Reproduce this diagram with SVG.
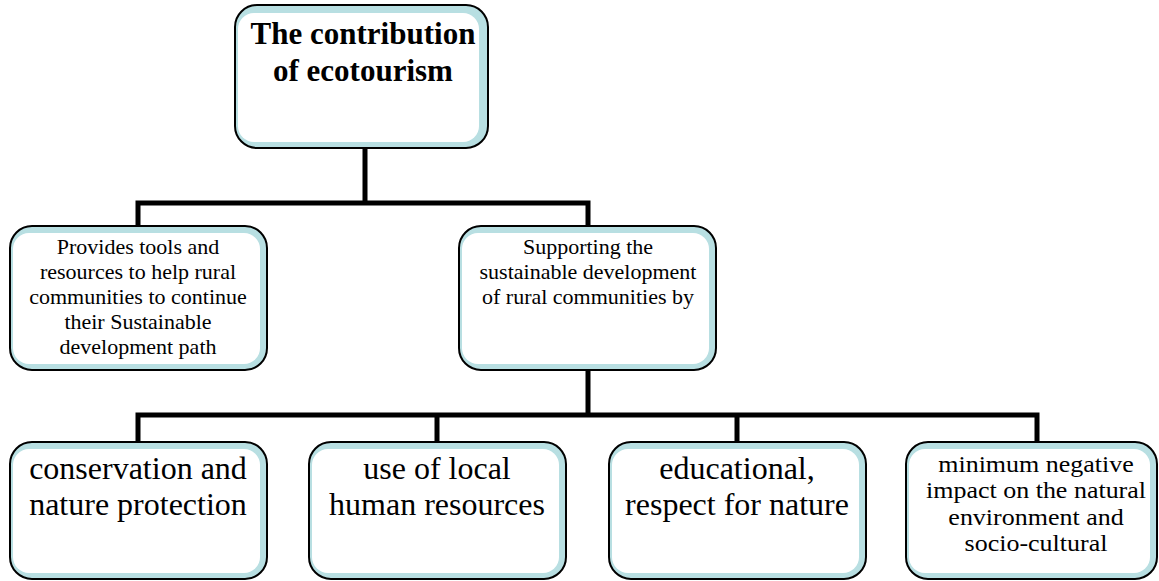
<svg xmlns="http://www.w3.org/2000/svg" width="1159" height="581" viewBox="0 0 1159 581" font-family="'Liberation Serif','Times New Roman',serif">
<style>
.bg{fill:#B8DFE2;stroke:none}
.in{fill:#FFFFFF;stroke:none}
.bd{fill:none;stroke:#000;stroke-width:2}
.ln{fill:none;stroke:#000;stroke-width:5;stroke-linecap:square}
text{font-family:"Liberation Serif","Times New Roman",serif;fill:#000;text-anchor:middle}
.t1{font-size:31px;font-weight:bold}
.t2{font-size:22px}
.t3{font-size:32px}
.t4{font-size:23px}
</style>
<rect width="1159" height="581" fill="#FFFFFF"/>
<g id="connectors">
<path class="ln" d="M365,149 V203 M138,203 H588 M138,203 V225 M588,203 V225"/>
<path class="ln" d="M588,371 V415 M138,415 H1037 M138,415 V441 M437,415 V441 M737,415 V441 M1037,415 V441"/>
</g>
<g id="top">
<rect class="bg" x="235" y="5" width="253" height="143" rx="22"/>
<rect class="in" x="238" y="13" width="241" height="129" rx="16"/>
<rect class="bd" x="235" y="5" width="253" height="143" rx="22"/>
<text class="t1" x="363" y="44">The contribution</text>
<text class="t1" x="363" y="81">of ecotourism</text>
</g>
<g id="tools">
<rect class="bg" x="10" y="226" width="257" height="144" rx="22"/>
<rect class="in" x="13" y="233" width="247" height="131" rx="16"/>
<rect class="bd" x="10" y="226" width="257" height="144" rx="22"/>
<text class="t2" x="138" y="254">Provides tools and</text>
<text class="t2" x="138" y="279">resources to help rural</text>
<text class="t2" x="138" y="304">communities to continue</text>
<text class="t2" x="138" y="329">their Sustainable</text>
<text class="t2" x="138" y="354">development path</text>
</g>
<g id="supporting">
<rect class="bg" x="459" y="226" width="257" height="144" rx="22"/>
<rect class="in" x="462" y="233" width="247" height="131" rx="16"/>
<rect class="bd" x="459" y="226" width="257" height="144" rx="22"/>
<text class="t2" x="588" y="254">Supporting the</text>
<text class="t2" x="588" y="279">sustainable development</text>
<text class="t2" x="588" y="304">of rural communities by</text>
</g>
<g id="conservation">
<rect class="bg" x="10" y="442" width="257" height="137" rx="22"/>
<rect class="in" x="13" y="449" width="247" height="124" rx="16"/>
<rect class="bd" x="10" y="442" width="257" height="137" rx="22"/>
<text class="t3" x="138" y="479">conservation and</text>
<text class="t3" x="138" y="515">nature protection</text>
</g>
<g id="local">
<rect class="bg" x="309" y="442" width="257" height="137" rx="22"/>
<rect class="in" x="312" y="449" width="247" height="124" rx="16"/>
<rect class="bd" x="309" y="442" width="257" height="137" rx="22"/>
<text class="t3" x="437" y="479">use of local</text>
<text class="t3" x="437" y="515">human resources</text>
</g>
<g id="educational">
<rect class="bg" x="609" y="442" width="257" height="137" rx="22"/>
<rect class="in" x="612" y="449" width="247" height="124" rx="16"/>
<rect class="bd" x="609" y="442" width="257" height="137" rx="22"/>
<text class="t3" x="737" y="479">educational,</text>
<text class="t3" x="737" y="515">respect for nature</text>
</g>
<g id="minimum">
<rect class="bg" x="906" y="442" width="251" height="137" rx="22"/>
<rect class="in" x="909" y="449" width="241" height="124" rx="16"/>
<rect class="bd" x="906" y="442" width="251" height="137" rx="22"/>
<g transform="translate(1036,0) scale(1.13,1)">
<text class="t4" x="0" y="472">minimum negative</text>
<text class="t4" x="0" y="498.5">impact on the natural</text>
<text class="t4" x="0" y="525">environment and</text>
<text class="t4" x="0" y="551.5">socio-cultural</text>
</g>
</g>
</svg>
